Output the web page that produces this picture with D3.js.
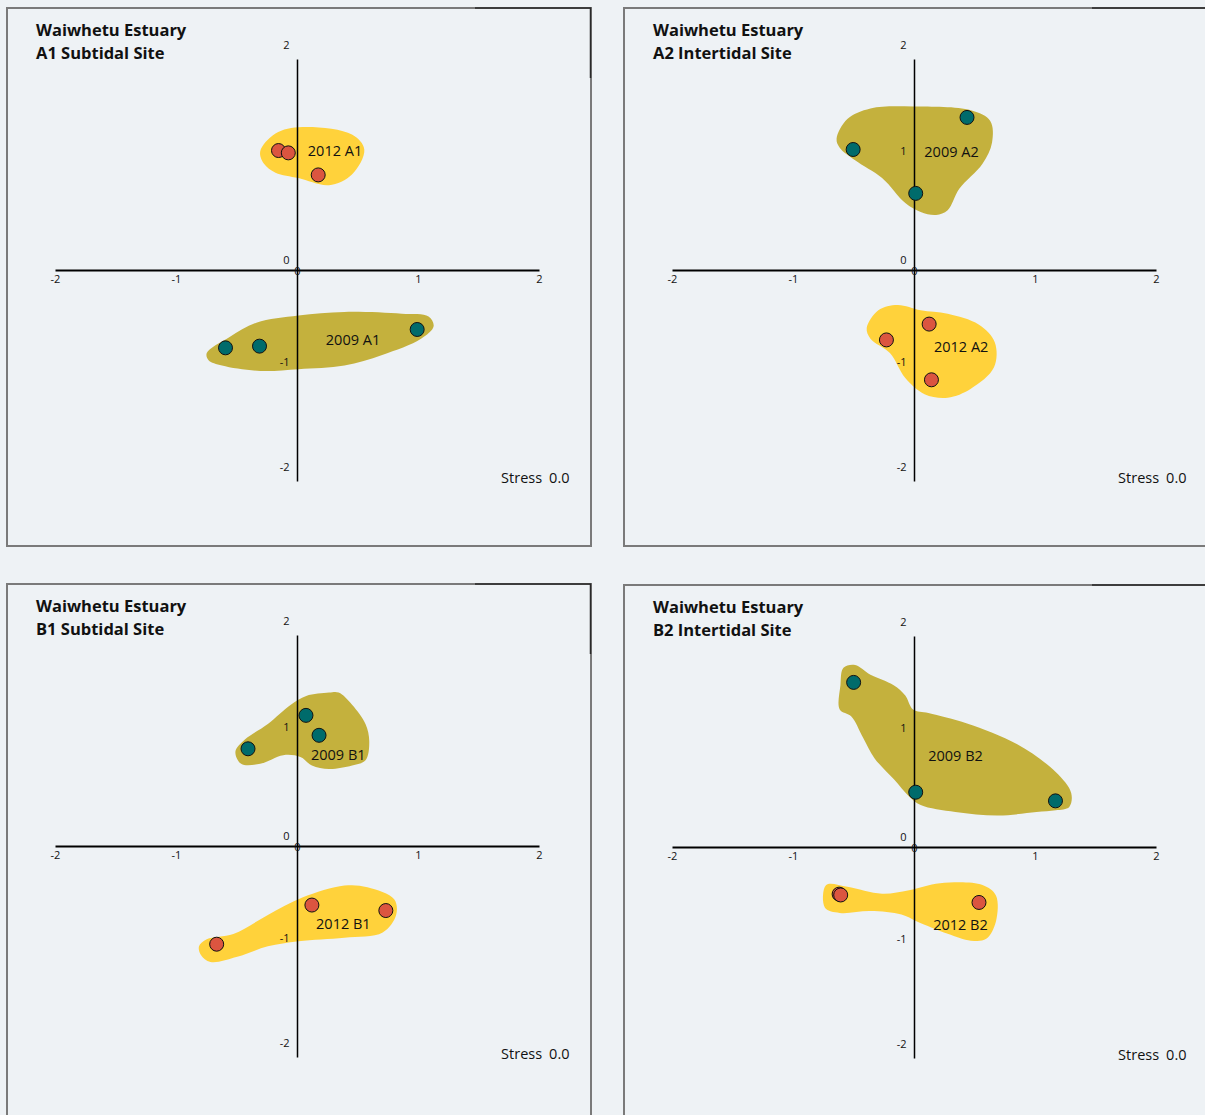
<!DOCTYPE html>
<html>
<head>
<meta charset="utf-8">
<script src="https://cdn.jsdelivr.net/npm/d3@7"></script>
<style>
  html, body { margin: 0; padding: 0; background: #eef2f5; overflow: hidden; }
  svg { display: block; }
  text { font-family: "Open Sans", "Noto Sans", sans-serif; fill: #111; }
</style>
</head>
<body>
<div id="chart"></div>
<script>
// ---- data (nMDS ordination, 3 replicates per year per site) ----
const estuary = "Waiwhetu Estuary";
const siteNames = ["A1 Subtidal Site", "A2 Intertidal Site", "B1 Subtidal Site", "B2 Intertidal Site"];
const siteCodes = ["A1", "A2", "B1", "B2"];
const stressValues = ["0.0", "0.0", "0.0", "0.0"];
const ticks = [-2, -1, 0, 1, 2];

// sample coordinates [MDS1, MDS2]
const pts2009 = [
  [[-0.595, -0.733], [-0.314, -0.717], [0.989, -0.559]],
  [[-0.507, 1.147], [0.434, 1.451], [0.010, 0.731]],
  [[0.070, 1.243], [0.178, 1.054], [-0.409, 0.926]],
  [[-0.503, 1.565], [0.010, 0.524], [1.165, 0.442]]
];
const pts2012 = [
  [[-0.157, 1.137], [-0.076, 1.115], [0.171, 0.906]],
  [[-0.232, -0.658], [0.121, -0.508], [0.140, -1.036]],
  [[0.119, -0.555], [0.730, -0.607], [-0.668, -0.926]],
  [[-0.623, -0.442], [-0.610, -0.450], [0.533, -0.521]]
];

// hand-drawn group outlines, in ordination units
const hull2009 = [
  [[-0.750, -0.783], [-0.561, -0.630], [-0.340, -0.495], [0.008, -0.427], [0.388, -0.393], [0.862, -0.410],
   [1.083, -0.436], [1.125, -0.529], [1.021, -0.647], [0.700, -0.800], [0.388, -0.900], [0.008, -0.935],
   [-0.308, -0.952], [-0.624, -0.900], [-0.735, -0.850]],
  [[-0.644, 1.248], [-0.555, 1.435], [-0.364, 1.536], [-0.012, 1.555], [0.466, 1.519], [0.626, 1.418],
   [0.641, 1.214], [0.562, 1.012], [0.370, 0.774], [0.274, 0.572], [0.179, 0.527], [0.051, 0.555],
   [-0.076, 0.639], [-0.268, 0.876], [-0.491, 1.045], [-0.618, 1.164]],
  [[-0.513, 0.900], [-0.435, 1.014], [-0.245, 1.162], [-0.055, 1.344], [0.072, 1.427], [0.261, 1.459],
   [0.340, 1.459], [0.451, 1.344], [0.562, 1.162], [0.593, 0.998], [0.562, 0.817], [0.451, 0.768],
   [0.261, 0.735], [0.119, 0.768], [0.024, 0.849], [-0.118, 0.866], [-0.308, 0.784], [-0.466, 0.784]],
  [[-0.618, 1.308], [-0.612, 1.538], [-0.587, 1.703], [-0.491, 1.730], [-0.364, 1.637], [-0.172, 1.538],
   [-0.076, 1.440], [-0.012, 1.308], [0.115, 1.275], [0.434, 1.176], [0.849, 0.978], [1.167, 0.715],
   [1.295, 0.517], [1.279, 0.385], [1.167, 0.353], [1.008, 0.336], [0.689, 0.303], [0.338, 0.336],
   [0.051, 0.402], [-0.045, 0.484], [-0.172, 0.649], [-0.331, 0.846], [-0.427, 1.045], [-0.522, 1.242]]
];
const hull2012 = [
  [[-0.308, 1.130], [-0.182, 1.299], [0.040, 1.360], [0.450, 1.289], [0.552, 1.147], [0.450, 0.910],
   [0.260, 0.809], [0.008, 0.876], [-0.182, 0.927], [-0.277, 1.011]],
  [[-0.395, -0.546], [-0.299, -0.376], [-0.140, -0.326], [0.051, -0.376], [0.274, -0.410], [0.530, -0.512],
   [0.664, -0.682], [0.657, -0.918], [0.466, -1.121], [0.274, -1.206], [0.083, -1.172], [-0.076, -1.020],
   [-0.203, -0.783], [-0.364, -0.647]],
  [[-0.814, -0.946], [-0.750, -0.880], [-0.530, -0.830], [-0.245, -0.649], [0.040, -0.484], [0.388, -0.370],
   [0.578, -0.386], [0.799, -0.501], [0.815, -0.649], [0.704, -0.814], [0.388, -0.864], [0.008, -0.897],
   [-0.245, -0.946], [-0.498, -1.045], [-0.719, -1.094], [-0.798, -1.028]],
  [[-0.730, -0.356], [-0.555, -0.373], [-0.268, -0.439], [-0.045, -0.406], [0.211, -0.339], [0.562, -0.356],
   [0.673, -0.455], [0.673, -0.701], [0.593, -0.866], [0.466, -0.883], [0.274, -0.817], [0.020, -0.701],
   [-0.108, -0.636], [-0.364, -0.603], [-0.618, -0.620], [-0.740, -0.571]]
];

// where each group name sits
const label2009 = [[0.459, -0.654], [0.306, 1.128], [0.337, 0.873], [0.339, 0.872]];
const label2012 = [[0.310, 1.137], [0.386, -0.725], [0.379, -0.732], [0.380, -0.728]];

// ---- layout ----
const width = 1205, height = 1115;
const panelPos = [[7, 8], [624, 8], [7, 584], [624, 585]];
const frameW = 584;
const origin = { x: 290.5, y: 262.5 };

const colors = {
  hull2009: "#c4b13d",
  hull2012: "#ffd23b",
  pt2009: "#006b6b",
  pt2012: "#db5540"
};

const svg = d3.select("#chart")
  .append("svg")
    .attr("width", width)
    .attr("height", height);

svg.append("rect")
  .attr("width", width)
  .attr("height", height)
  .attr("fill", "#eef2f5");

siteCodes.forEach((code, i) => {
  const [px, py] = panelPos[i];
  const frameH = i < 2 ? 538 : 600;

  const panel = svg.append("g")
    .attr("transform", `translate(${px}, ${py})`);

  // frame
  panel.append("rect")
    .attr("width", frameW)
    .attr("height", frameH)
    .attr("fill", "#eef2f5")
    .attr("stroke", "#7a7a7a")
    .attr("stroke-width", 2);
  // darker bits on the top-right corner
  panel.append("path")
    .attr("d", `M${frameW - 116},0 H${frameW - 0.5} V70`)
    .attr("fill", "none")
    .attr("stroke", "#2a2a2a")
    .attr("stroke-width", 1.5);

  const x = d3.scaleLinear().domain([-2, 2]).range([origin.x - 242, origin.x + 242]);
  const y = d3.scaleLinear().domain([-2, 2]).range([origin.y + 211, origin.y - 211]);

  const line = d3.line()
    .x(d => x(d[0]))
    .y(d => y(d[1]))
    .curve(d3.curveCatmullRomClosed.alpha(0.5));

  // group outlines
  panel.append("path")
    .attr("d", line(hull2009[i]))
    .attr("fill", colors.hull2009);
  panel.append("path")
    .attr("d", line(hull2012[i]))
    .attr("fill", colors.hull2012);

  // axes
  panel.append("line")
    .attr("x1", x(-2)).attr("x2", x(2))
    .attr("y1", y(0)).attr("y2", y(0))
    .attr("stroke", "#000")
    .attr("stroke-width", 2);
  panel.append("line")
    .attr("x1", x(0)).attr("x2", x(0))
    .attr("y1", y(2)).attr("y2", y(-2))
    .attr("stroke", "#000")
    .attr("stroke-width", 1.5);

  // x tick labels
  panel.selectAll(".xt")
    .data(ticks)
    .join("text")
      .attr("class", "xt")
      .attr("x", d => x(d))
      .attr("y", d => d === 0 ? y(0) : y(0) + 8)
      .attr("text-anchor", "middle")
      .attr("dominant-baseline", "central")
      .style("font-size", "11px")
      .text(d => d);

  // y tick labels
  panel.selectAll(".yt")
    .data(ticks)
    .join("text")
      .attr("class", "yt")
      .attr("x", x(0) - 8)
      .attr("y", d => y(d) - (d === 0 ? 11 : 15))
      .attr("text-anchor", "end")
      .attr("dominant-baseline", "central")
      .style("font-size", "11px")
      .text(d => d);

  // group names
  panel.append("text")
    .attr("x", x(label2009[i][0]))
    .attr("y", y(label2009[i][1]))
    .attr("text-anchor", "middle")
    .attr("dominant-baseline", "central")
    .style("font-size", "14.5px")
    .text(`2009 ${code}`);
  panel.append("text")
    .attr("x", x(label2012[i][0]))
    .attr("y", y(label2012[i][1]))
    .attr("text-anchor", "middle")
    .attr("dominant-baseline", "central")
    .style("font-size", "14.5px")
    .text(`2012 ${code}`);

  // sample points
  panel.selectAll(".p2009")
    .data(pts2009[i])
    .join("circle")
      .attr("class", "p2009")
      .attr("cx", d => x(d[0]))
      .attr("cy", d => y(d[1]))
      .attr("r", 7)
      .attr("fill", colors.pt2009)
      .attr("stroke", "#111")
      .attr("stroke-width", 1);
  panel.selectAll(".p2012")
    .data(pts2012[i])
    .join("circle")
      .attr("class", "p2012")
      .attr("cx", d => x(d[0]))
      .attr("cy", d => y(d[1]))
      .attr("r", 7)
      .attr("fill", colors.pt2012)
      .attr("stroke", "#111")
      .attr("stroke-width", 1);

  // titles
  panel.append("text")
    .attr("x", 29)
    .attr("y", 28)
    .style("font-size", "16.5px")
    .style("font-weight", 700)
    .text(estuary);
  panel.append("text")
    .attr("x", 29)
    .attr("y", 51)
    .style("font-size", "16.5px")
    .style("font-weight", 700)
    .text(siteNames[i]);

  // stress
  const stress = panel.append("text")
    .attr("x", x(0) + 272)
    .attr("y", y(0) + 212)
    .attr("text-anchor", "end")
    .style("font-size", "14.5px");
  stress.append("tspan").text("Stress");
  stress.append("tspan").attr("dx", 7).text(stressValues[i]);
});
</script>
</body>
</html>
